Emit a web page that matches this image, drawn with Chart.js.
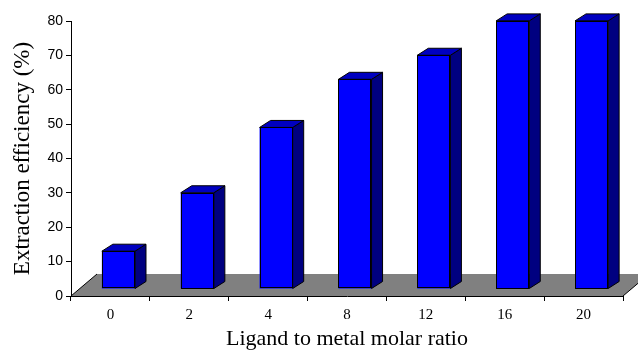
<!DOCTYPE html>
<html>
<head>
<meta charset="utf-8">
<script src="https://cdn.jsdelivr.net/npm/chart.js@4/dist/chart.umd.min.js"></script>
<style>
  html, body { margin: 0; padding: 0; background: #fff; }
  #wrap { width: 638px; height: 352px; }
</style>
</head>
<body>
<div id="wrap"><canvas id="c" width="638" height="352"></canvas></div>
<script>
// Ligand to metal molar ratio vs. extraction efficiency
const ratios = ['0', '2', '4', '8', '12', '16', '20'];
const efficiency = [11, 28, 47, 61, 68, 78, 78];
const yTicks = { min: 0, max: 80, step: 10 };

// pseudo-3D look: front faces shifted into the floor, with top/side faces
const FRONT_SHIFT = { x: 8, y: -7 };
const BAR_DEPTH = { x: 11, y: -7 };
const FLOOR_DEPTH = { x: 26, y: -22 };

const floorPlugin = {
  id: 'floor3d',
  beforeDatasetsDraw(chart) {
    const { ctx, chartArea } = chart;
    const y0 = chart.scales.y.getPixelForValue(0);
    const l = chartArea.left, r = chartArea.right;
    ctx.save();
    ctx.beginPath();
    ctx.moveTo(l, y0);
    ctx.lineTo(l + FLOOR_DEPTH.x, y0 + FLOOR_DEPTH.y);
    ctx.lineTo(r + FLOOR_DEPTH.x, y0 + FLOOR_DEPTH.y);
    ctx.lineTo(r, y0);
    ctx.closePath();
    ctx.fillStyle = '#808080';
    ctx.fill();
    ctx.strokeStyle = '#000';
    ctx.lineWidth = 1;
    ctx.beginPath();
    ctx.moveTo(l, y0);
    ctx.lineTo(l + FLOOR_DEPTH.x, y0 + FLOOR_DEPTH.y);
    ctx.moveTo(r, y0);
    ctx.lineTo(r + FLOOR_DEPTH.x, y0 + FLOOR_DEPTH.y);
    ctx.stroke();
    ctx.restore();
  },
  beforeDatasetDraw(chart) {
    chart.ctx.save();
    chart.ctx.translate(FRONT_SHIFT.x, FRONT_SHIFT.y);
  },
  afterDatasetDraw(chart, args) {
    const { ctx } = chart;
    const meta = args.meta;
    ctx.lineWidth = 1;
    ctx.strokeStyle = '#000';
    ctx.lineJoin = 'miter';
    meta.data.forEach(el => {
      const p = el.getProps(['x', 'y', 'base', 'width'], true);
      const xl = p.x - p.width / 2, xr = p.x + p.width / 2;
      const yt = p.y, yb = p.base;
      const dx = BAR_DEPTH.x, dy = BAR_DEPTH.y;
      // side face
      ctx.beginPath();
      ctx.moveTo(xr, yt);
      ctx.lineTo(xr + dx, yt + dy);
      ctx.lineTo(xr + dx, yb + dy);
      ctx.lineTo(xr, yb);
      ctx.closePath();
      ctx.fillStyle = '#000080';
      ctx.fill();
      ctx.stroke();
      // top face
      ctx.beginPath();
      ctx.moveTo(xl, yt);
      ctx.lineTo(xl + dx, yt + dy);
      ctx.lineTo(xr + dx, yt + dy);
      ctx.lineTo(xr, yt);
      ctx.closePath();
      ctx.fillStyle = '#0000C0';
      ctx.fill();
      ctx.stroke();
      // front outline on top
      ctx.strokeRect(Math.round(xl) + 0.5, Math.round(yt) + 0.5, Math.round(xr - xl) - 1, Math.round(yb - yt) - 1);
    });
    ctx.restore();
  }
};

new Chart(document.getElementById('c'), {
  type: 'bar',
  data: {
    labels: ratios,
    datasets: [{
      data: efficiency,
      backgroundColor: '#0000FF',
      borderColor: '#000',
      borderWidth: 0,
      categoryPercentage: 1,
      barPercentage: 0.42,
      clip: false
    }]
  },
  options: {
    responsive: false,
    animation: false,
    events: [],
    layout: { padding: { top: 21, right: 15, left: 0, bottom: 0 } },
    plugins: { legend: { display: false }, tooltip: { enabled: false } },
    scales: {
      x: {
        grid: { display: true, drawOnChartArea: false, drawTicks: true, tickLength: 5, color: '#000', offset: true },
        border: { display: true, color: '#000', width: 1 },
        ticks: { color: '#000', font: { family: 'Liberation Serif', size: 15 }, padding: 5, maxRotation: 0 },
        title: {
          display: true, text: 'Ligand to metal molar ratio', color: '#000',
          font: { family: 'Liberation Serif', size: 22 }, padding: { top: 0, bottom: 0 }
        },
        afterFit(scale) { scale.height = 56; }
      },
      y: {
        min: yTicks.min, max: yTicks.max,
        grid: { display: true, drawOnChartArea: false, drawTicks: true, tickLength: 5, color: '#000' },
        border: { display: true, color: '#000', width: 1 },
        ticks: { stepSize: yTicks.step, color: '#000', font: { family: 'Liberation Sans', size: 14 }, padding: 3 },
        title: {
          display: true, text: 'Extraction efficiency (%)', color: '#000',
          font: { family: 'Liberation Serif', size: 23 }, padding: { top: 9, bottom: 0 }
        },
        afterFit(scale) { scale.width = 71; }
      }
    }
  },
  plugins: [floorPlugin]
});
</script>
</body>
</html>
